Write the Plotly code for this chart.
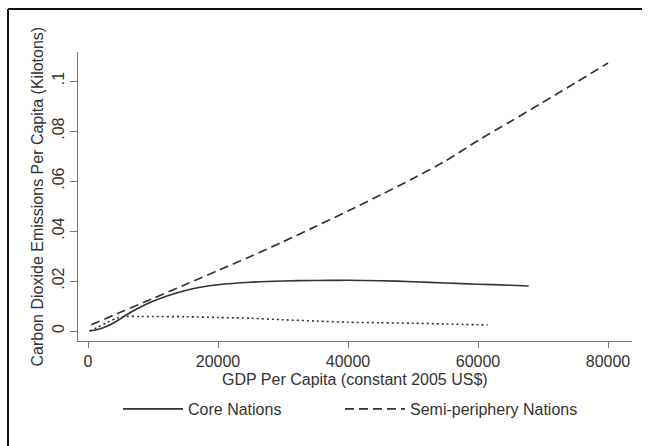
import plotly.graph_objects as go

# GDP per capita (constant 2005 US$) and fitted CO2 emissions per capita (kilotons)
core_gdp = [200, 1500, 3000, 4500, 6000, 8000, 10000, 12500, 15000, 17500, 20000,
            25000, 30000, 35000, 40000, 45000, 50000, 55000, 60000, 65000, 67800]
core_co2 = [0.0, 0.0006, 0.0020, 0.0041, 0.0066, 0.0095, 0.0119, 0.0143, 0.0162, 0.0176, 0.0185,
            0.0195, 0.0200, 0.0202, 0.0203, 0.0201, 0.0197, 0.0192, 0.0187, 0.0183, 0.0180]

semi_gdp = [500, 5000, 10000, 15000, 20000, 25000, 30000, 35000, 40000, 45000,
            50000, 55000, 60000, 65000, 70000, 75000, 80000]
semi_co2 = [0.0025, 0.0075, 0.0130, 0.0186, 0.0242, 0.0298, 0.0357, 0.0418, 0.0480, 0.0544,
            0.0610, 0.0680, 0.0762, 0.0838, 0.0915, 0.0993, 0.1072]

peri_gdp = [300, 1500, 3000, 4500, 6000, 8000, 10000, 15000, 20000, 25000, 30000,
            35000, 40000, 45000, 50000, 55000, 61500]
peri_co2 = [0.0, 0.0015, 0.0035, 0.0052, 0.0058, 0.0058, 0.0058, 0.0057, 0.0054, 0.0051, 0.0045,
            0.0040, 0.0035, 0.0033, 0.0031, 0.0028, 0.0024]

x_ticks = [0, 20000, 40000, 60000, 80000]
x_tick_text = ["0", "20000", "40000", "60000", "80000"]
y_ticks = [0, 0.02, 0.04, 0.06, 0.08, 0.1]
y_tick_text = ["0", ".02", ".04", ".06", ".08", ".1"]

x_title = "GDP Per Capita (constant 2005 US$)"
y_title = "Carbon Dioxide Emissions Per Capita (Kilotons)"

INK = "#333333"
AXIS = "#777777"
FONT = "Liberation Sans, Arial, sans-serif"

fig = go.Figure()
fig.add_trace(go.Scatter(x=core_gdp, y=core_co2, mode="lines", name="Core Nations",
                         legend="legend",
                         line=dict(color=INK, width=1.7, shape="spline", smoothing=0.8)))
fig.add_trace(go.Scatter(x=semi_gdp, y=semi_co2, mode="lines", name="Semi-periphery Nations",
                         legend="legend2",
                         line=dict(color=INK, width=1.7, dash="9px,5px", shape="spline",
                                   smoothing=0.8)))
fig.add_trace(go.Scatter(x=peri_gdp, y=peri_co2, mode="lines", name="Periphery Nations",
                         showlegend=False,
                         line=dict(color=INK, width=1.6, dash="2px,3px", shape="spline",
                                   smoothing=0.8)))

W, H = 649, 446
L, R, T, B = 78, 17, 52, 105
pw, ph = W - L - R, H - T - B

def px_x(p):
    return (p - L) / pw

def px_y(p):
    return (H - B - p) / ph

legend_style = dict(orientation="h", yanchor="middle", xanchor="left", itemwidth=60,
                    font=dict(size=16, color=INK), bgcolor="rgba(0,0,0,0)")

fig.update_layout(
    width=W, height=H,
    margin=dict(l=L, r=R, t=T, b=B, autoexpand=False),
    paper_bgcolor="white", plot_bgcolor="white",
    font=dict(family=FONT, size=16, color=INK),
    showlegend=True,
    legend=dict(x=px_x(118), y=px_y(409), **legend_style),
    legend2=dict(x=px_x(340), y=px_y(409), **legend_style),
    xaxis=dict(range=[-1538, 83692], tickvals=x_ticks, ticktext=x_tick_text,
               ticks="outside", ticklen=6,
               tickcolor=AXIS, tickwidth=1.2, showline=True, linecolor=AXIS,
               linewidth=1.2, showgrid=False, zeroline=False, automargin=False,
               tickfont=dict(size=16, color=INK)),
    yaxis=dict(range=[-0.004, 0.1116], tickvals=y_ticks, ticktext=y_tick_text,
               tickangle=-90, ticks="outside", ticklen=7,
               tickcolor=AXIS, tickwidth=1.2, showline=True, linecolor=AXIS,
               linewidth=1.2, showgrid=False, zeroline=False, automargin=False,
               tickfont=dict(size=16, color=INK)),
    annotations=[
        dict(text=x_title, xref="paper", yref="paper", x=0.5, y=px_y(379),
             xanchor="center", yanchor="middle", showarrow=False,
             font=dict(size=16, color=INK)),
        dict(text=y_title, xref="paper", yref="paper", x=px_x(37), y=0.5,
             xanchor="center", yanchor="middle", textangle=-90, showarrow=False,
             font=dict(size=16, color=INK)),
    ],
    shapes=[
        dict(type="line", xref="paper", yref="paper", x0=px_x(8), x1=px_x(642),
             y0=px_y(9), y1=px_y(9), line=dict(color="#111111", width=2)),
        dict(type="line", xref="paper", yref="paper", x0=px_x(8), x1=px_x(8),
             y0=px_y(9), y1=px_y(450), line=dict(color="#111111", width=2)),
    ],
)

fig.write_html("out.html")
